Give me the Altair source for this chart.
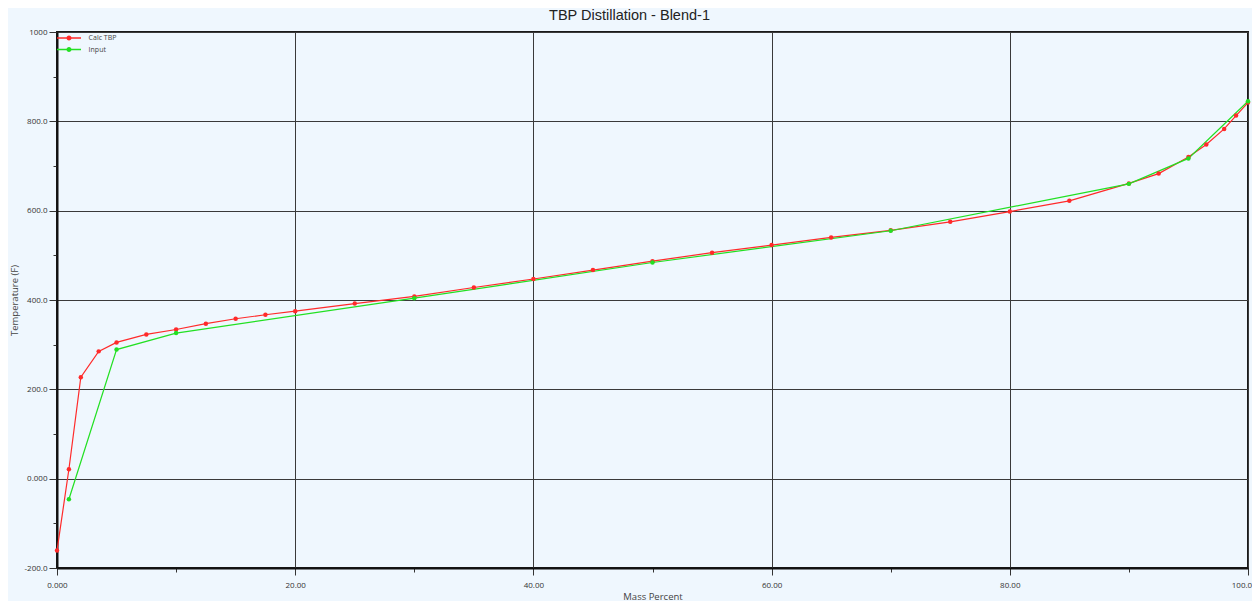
import altair as alt
import pandas as pd

# ---- data ----
calc_x = [0, 1, 2, 3.5, 5, 7.5, 10, 12.5, 15, 17.5, 20, 25, 30, 35, 40, 45, 50,
          55, 60, 65, 70, 75, 80, 85, 90, 92.5, 95, 96.5, 98, 99, 100]
calc_y = [-161, 21, 227, 285, 305, 323, 334, 347, 358, 367, 375, 392, 408, 428,
          447, 467, 487, 506, 523, 540, 556, 575, 598, 622, 661, 683, 720, 748,
          783, 813, 842]
input_x = [1, 5, 10, 30, 50, 70, 90, 95, 100]
input_y = [-46, 289, 326, 404, 484, 555, 660, 717, 845]

series_names = ["Calc TBP", "Input"]
series_colors = ["#FF2A2A", "#22E022"]
x_ticks = list(range(0, 101, 10))
y_ticks = list(range(-200, 1001, 100))

df = pd.DataFrame({
    "series": [series_names[0]] * len(calc_x) + [series_names[1]] * len(input_x),
    "x": calc_x + input_x,
    "y": calc_y + input_y,
    "order": list(range(len(calc_x))) + list(range(len(input_x))),
})

color_scale = alt.Scale(domain=series_names, range=series_colors)

x_axis = alt.Axis(
    title="Mass Percent",
    values=x_ticks,
    labelExpr="datum.value % 20 != 0 ? '' : datum.value == 0 ? '0.000' : datum.value == 100 ? '100.0' : format(datum.value, '.2f')",
    tickSize={"condition": {"test": "datum.value % 20 == 0", "value": 7}, "value": 4},
    gridOpacity={"condition": {"test": "datum.value % 20 == 0", "value": 1}, "value": 0},
    labelOffset={"condition": {"test": "datum.value == 100", "value": -6.5}, "value": 0},
    labelFlush=False,
    labelOverlap=False,
    labelPadding=6,
    titleX=595.5,
    titleY=33,
    titleBaseline="bottom",
    titleAlign="center",
)

y_axis = alt.Axis(
    title="Temperature (F)",
    values=y_ticks,
    labelExpr="datum.value % 200 != 0 ? '' : datum.value == 0 ? '0.000' : datum.value == 1000 ? '1000' : (datum.value < 0 ? '-' : '') + format(abs(datum.value), '.1f')",
    tickSize={"condition": {"test": "datum.value % 200 == 0", "value": 8}, "value": 4},
    gridOpacity={"condition": {"test": "datum.value % 200 == 0", "value": 1}, "value": 0},
    labelFlush=False,
    labelOverlap=False,
    labelPadding=2,
    titleX=-43,
    titleY=268,
    titleAngle=270,
    titleBaseline="middle",
    titleAlign="center",
)

x_enc = alt.X("x:Q", scale=alt.Scale(domain=[0, 100], nice=False, zero=False), axis=x_axis)
y_enc = alt.Y("y:Q", scale=alt.Scale(domain=[-200, 1000], nice=False, zero=False), axis=y_axis)

legend_path = ("M-2,-0.11H2V0.11H-2Z "
               "M-0.42,0A0.42,0.42,0,1,1,0.42,0A0.42,0.42,0,1,1,-0.42,0Z")

lines = alt.Chart(df).mark_line(strokeWidth=1.2).encode(
    x=x_enc,
    y=y_enc,
    color=alt.Color("series:N", scale=color_scale, legend=None),
    order="order:Q",
)

points = alt.Chart(df).mark_circle(size=20, opacity=1).encode(
    x=x_enc,
    y=y_enc,
    color=alt.Color(
        "series:N",
        scale=color_scale,
        legend=alt.Legend(
            title=None,
            orient="none",
            legendX=6,
            legendY=0,
            symbolType=legend_path,
            symbolSize=144,
            symbolStrokeWidth=0,
            symbolOpacity=1,
            labelFont="Open Sans",
            labelFontSize=7,
            labelColor="#444444",
            labelOffset=13.6,
            padding=0,
            rowPadding=2.5,
        ),
    ),
)

chart = alt.layer(lines, points).resolve_legend(color="independent").properties(
    width=1191,
    height=536,
    autosize=alt.AutoSizeParams(type="none"),
    padding={"left": 49, "top": 24, "right": 4, "bottom": 33},
    background="#EFF7FE",
    title=alt.TitleParams(
        "TBP Distillation - Blend-1",
        font="Liberation Sans",
        fontSize=14.5,
        fontWeight="normal",
        color="#222222",
        anchor="middle",
        dx=-23,
        offset=4.5,
    ),
).configure_view(
    stroke="#1a1a1a",
    strokeWidth=2,
).configure_axis(
    domainColor="#111111",
    domainWidth=2,
    tickColor="#333333",
    tickWidth=1,
    labelFont="Open Sans",
    labelFontSize=8,
    labelColor="#333333",
    titleFont="Open Sans",
    titleFontSize=9.5,
    titleFontWeight="normal",
    titleColor="#444444",
    gridColor="#3a3a3a",
    gridWidth=1,
)

chart.save("out.html", embed_options={"renderer": "svg", "actions": False})
